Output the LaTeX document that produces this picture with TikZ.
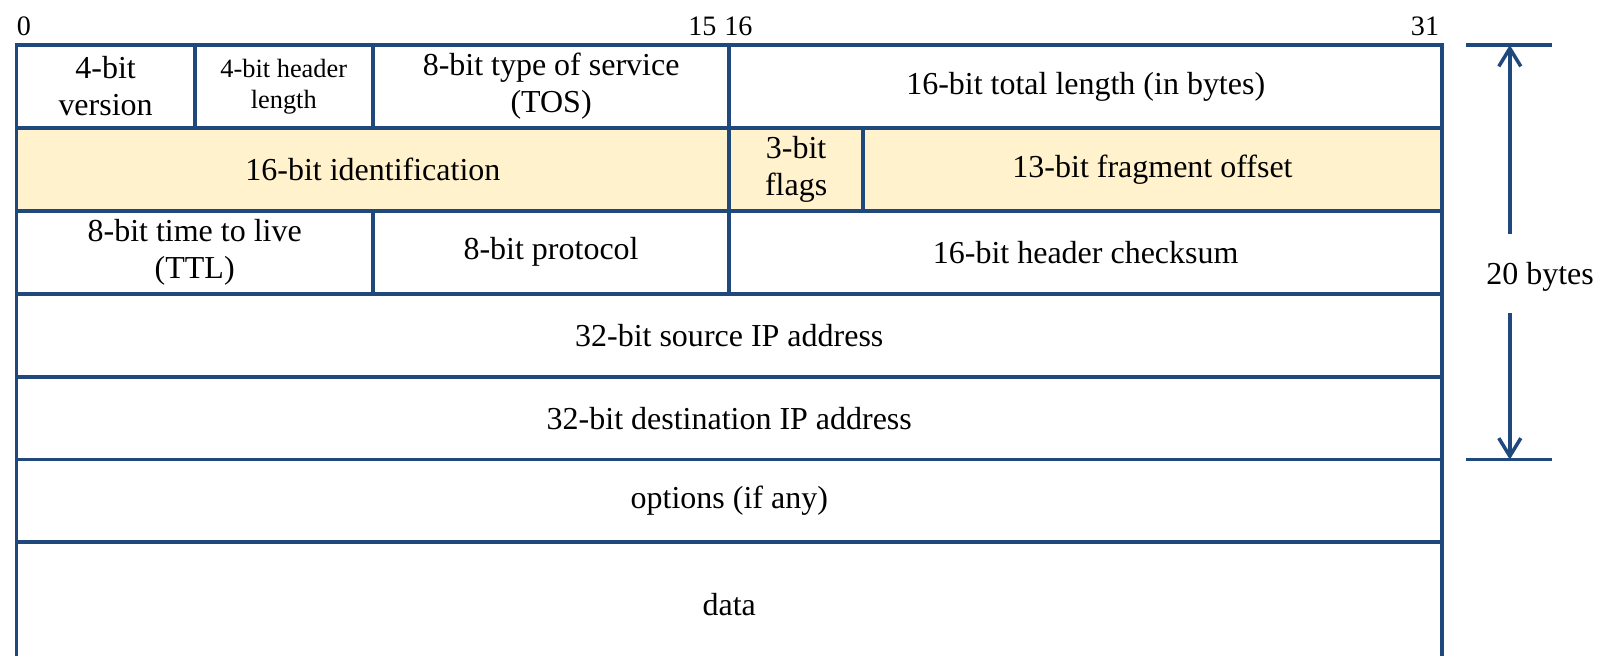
\documentclass[tikz,border=0pt]{standalone}
\usepackage{fontspec}
\setmainfont{Liberation Serif}
\usepackage{xcolor}
\usetikzlibrary{arrows.meta,positioning}
\definecolor{ipblue}{RGB}{31,73,125}
\definecolor{idfill}{RGB}{255,242,204}

\begin{document}
\begin{tikzpicture}[x=0.891cm,y=1.658cm,
  every node/.style={font=\fontsize{18.2}{21}\selectfont},
  fld/.style={draw=ipblue,line width=2.2pt,inner sep=0pt,align=center,minimum height=1.658cm},
  frg/.style={fld,fill=idfill},
  small/.style={font=\fontsize{15}{17.6}\selectfont},
  bitno/.style={inner sep=0pt,font=\fontsize{16}{19}\selectfont},
  tick/.style={draw=ipblue,line width=2.2pt},
  dim/.style={-{Straight Barb[length=3.6mm,width=4.4mm]},draw=ipblue,line width=2pt}]
 \useasboundingbox (-0.370,0.543) rectangle (35.567,-7.370);
 % bit numbers
 \node[bitno,anchor=base west] (b0)  at (0,0.109)     {0};
 \node[bitno,anchor=base east] (b15) at (15.72,0.109) {15};
 \node[bitno,anchor=base west] (b16) at (15.88,0.109) {16};
 \node[bitno,anchor=base east] (b31) at (31.94,0.109) {31};
 % header words
 \node[fld,minimum width=3.564cm] (ver) at (2,-0.5) {4-bit\\version};
 \node[fld,small,minimum width=3.564cm] (hlen) at (6,-0.5) {4-bit header\\length};
 \node[fld,minimum width=7.128cm] (tos) at (12,-0.5) {8-bit type of service\\(TOS)};
 \node[fld,minimum width=14.256cm] (tlen) at (24,-0.5) {16-bit total length (in bytes)};
 \node[frg,minimum width=14.256cm] (ident) at (8,-1.5) {16-bit identification};
 \node[frg,minimum width=2.673cm] (flags) at (17.5,-1.5) {3-bit\\flags};
 \node[frg,minimum width=11.583cm] (foff) at (25.5,-1.5) {13-bit fragment offset};
 \node[fld,minimum width=7.128cm] (ttl) at (4,-2.5) {8-bit time to live\\(TTL)};
 \node[fld,minimum width=7.128cm] (proto) at (12,-2.5) {8-bit protocol};
 \node[fld,minimum width=14.256cm] (csum) at (24,-2.5) {16-bit header checksum};
 \node[fld,minimum width=28.512cm] (src) at (16,-3.5) {32-bit source IP address};
 \node[fld,minimum width=28.512cm] (dst) at (16,-4.5) {32-bit destination IP address};
 \node[fld,minimum width=28.512cm] (opt) at (16,-5.5) {options (if any)};
 \node[fld,minimum width=28.512cm,minimum height=2.487cm] (data) at (16,-6.75) {data};
 % 20 bytes marker
 \coordinate (tkTl) at (32.54,0);
 \coordinate (tkTr) at (34.47,0);
 \coordinate (tkBl) at (32.54,-5);
 \coordinate (tkBr) at (34.47,-5);
 \coordinate (aT) at (33.52,0);
 \coordinate (aB) at (33.52,-5);
 \coordinate (aU) at (33.52,-2.28);
 \coordinate (aL) at (33.52,-3.23);
 \node (hsize) at (34.20,-2.80) {20 bytes};
 \draw[tick] (tkTl) -- (tkTr);
 \draw[tick] (tkBl) -- (tkBr);
 \draw[dim] (aU) -- (aT);
 \draw[dim] (aL) -- (aB);
\end{tikzpicture}
\end{document}
